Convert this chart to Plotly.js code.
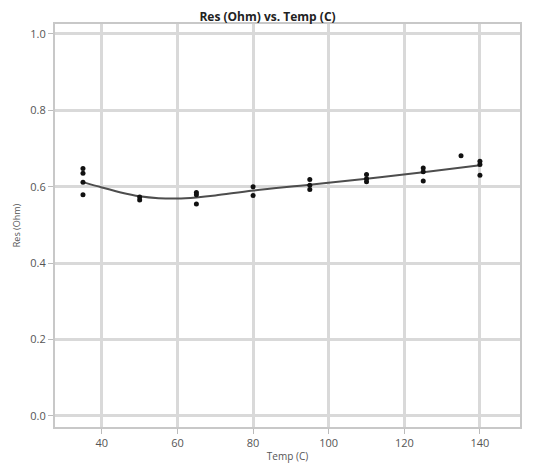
<!DOCTYPE html>
<html>
<head>
<meta charset="utf-8">
<script src="https://cdn.plot.ly/plotly-3.0.1.min.js"></script>
<style>html,body{margin:0;padding:0;background:#fff;}#chart{width:535px;height:464px;}</style>
</head>
<body>
<div id="chart"></div>
<script>
// Observed measurements
const tempC = [35,35,35,35, 50,50, 65,65,65, 80,80, 95,95,95, 110,110,110, 125,125,125, 135, 140,140,140];
const resOhm = [0.648,0.635,0.612,0.579, 0.573,0.565, 0.585,0.579,0.555, 0.600,0.577, 0.619,0.604,0.593, 0.632,0.621,0.613, 0.649,0.639,0.615, 0.681, 0.667,0.658,0.630];
// Fitted curve
const fitTemp = [35,40,45,50,55,60,65,70,80,95,110,125,140];
const fitRes = [0.612,0.598,0.585,0.575,0.570,0.569,0.572,0.577,0.590,0.605,0.621,0.638,0.656];
const xTicks = [40,60,80,100,120,140];
const yTicks = [0.0,0.2,0.4,0.6,0.8,1.0];

const font = "'Open Sans', 'Noto Sans', sans-serif";
Plotly.newPlot('chart', [
  {x: fitTemp, y: fitRes, mode: 'lines', line: {color: '#4d4d4d', width: 2, shape: 'spline', smoothing: 1.0}, hoverinfo: 'skip', showlegend: false},
  {x: tempC, y: resOhm, mode: 'markers', marker: {color: '#111', size: 5}, showlegend: false}
], {
  width: 535, height: 464,
  margin: {l: 55, r: 15, t: 24, b: 37},
  paper_bgcolor: '#fff', plot_bgcolor: '#fff',
  title: {text: '<b>Res (Ohm) vs. Temp (C)</b>', font: {family: font, size: 12, color: '#222'}, x: 0.5, xanchor: 'center', y: 0.963, yanchor: 'middle'},
  xaxis: {
    range: [27.6, 150.6], tickvals: xTicks, ticktext: xTicks.map(String),
    showgrid: true, gridcolor: '#d9d9d9', gridwidth: 3, zeroline: false,
    showline: true, mirror: true, linecolor: '#c8c8c8', linewidth: 2,
    ticks: 'outside', ticklen: 5, tickcolor: '#bbb',
    tickfont: {family: font, size: 11, color: '#555'},
    title: {text: 'Temp (C)', font: {family: font, size: 10, color: '#555'}, standoff: 4}
  },
  yaxis: {
    range: [-0.029, 1.026], tickvals: yTicks, ticktext: yTicks.map(v => v.toFixed(1)),
    showgrid: true, gridcolor: '#d9d9d9', gridwidth: 3, zeroline: false,
    showline: true, mirror: true, linecolor: '#c8c8c8', linewidth: 2,
    ticks: 'outside', ticklen: 5, tickcolor: '#bbb',
    tickfont: {family: font, size: 11, color: '#555'},
    title: {text: 'Res (Ohm)', font: {family: font, size: 9, color: '#555'}, standoff: 8}
  }
}, {displayModeBar: false, staticPlot: true});
</script>
</body>
</html>
